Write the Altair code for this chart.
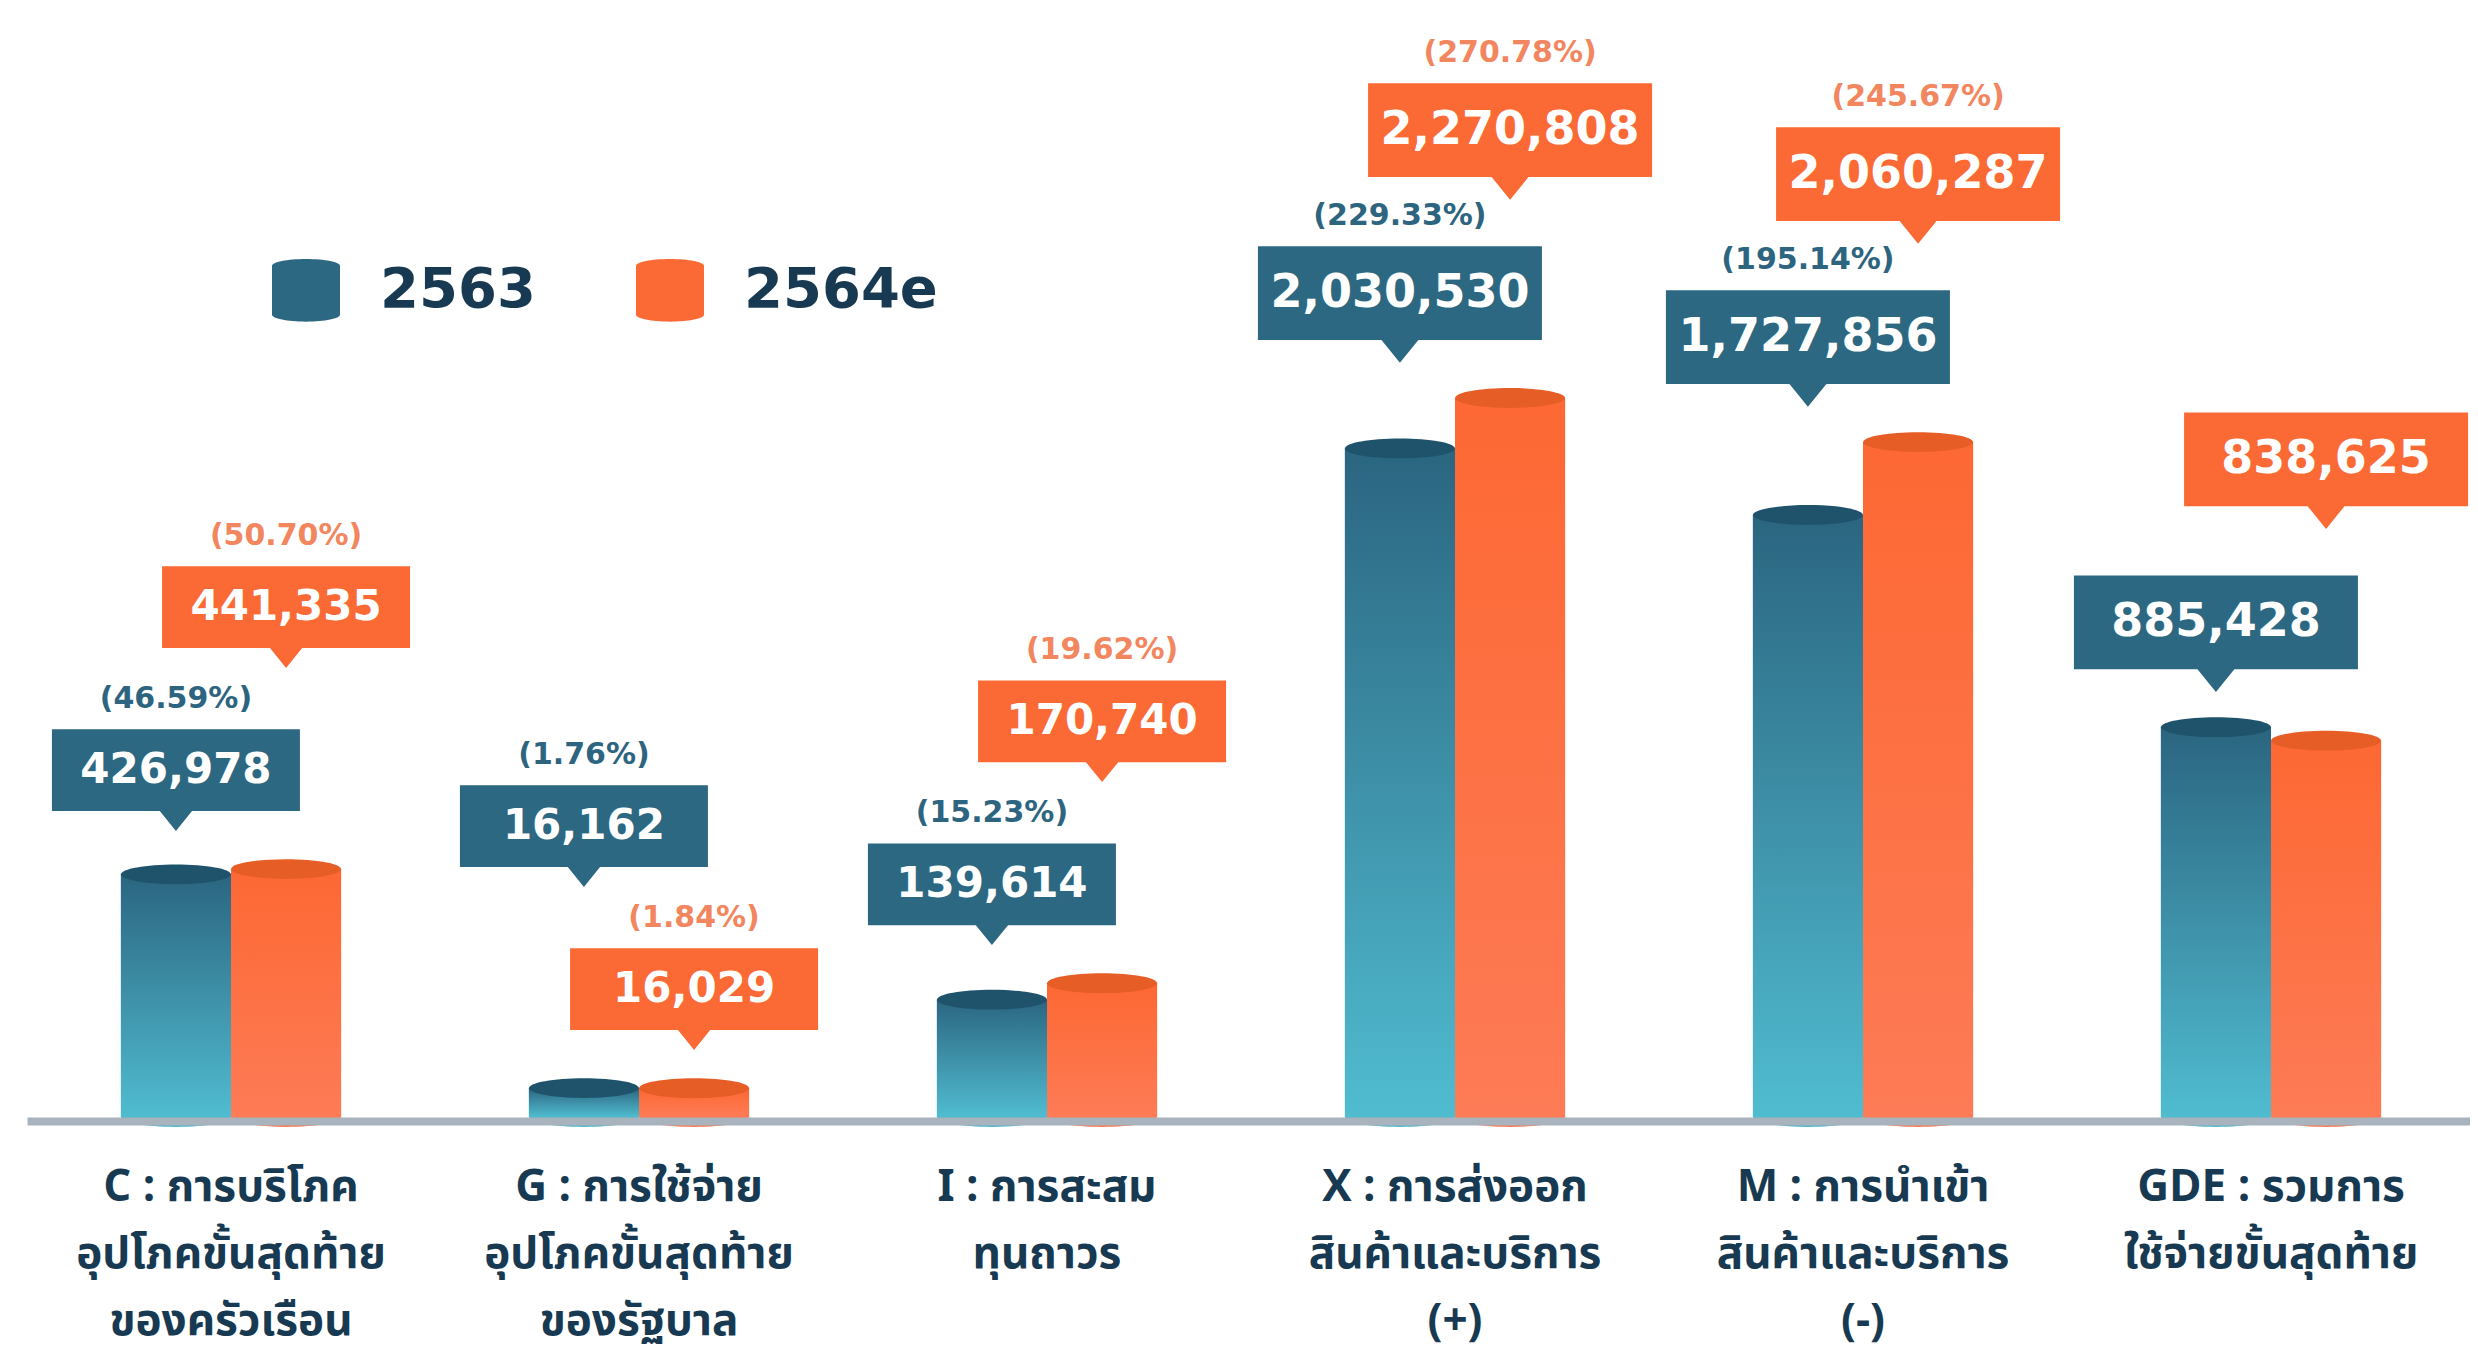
import altair as alt
import pandas as pd

# ---------------- data ----------------
categories = [
    "C : การบริโภค|อุปโภคขั้นสุดท้าย|ของครัวเรือน",
    "G : การใช้จ่าย|อุปโภคขั้นสุดท้าย|ของรัฐบาล",
    "I : การสะสม|ทุนถาวร",
    "X : การส่งออก|สินค้าและบริการ|(+)",
    "M : การนำเข้า|สินค้าและบริการ|(-)",
    "GDE : รวมการ|ใช้จ่ายขั้นสุดท้าย",
]
years = ["2563", "2564e"]
values_2563 = [426978, 16162, 139614, 2030530, 1727856, 885428]
values_2564e = [441335, 16029, 170740, 2270808, 2060287, 838625]
share_2563 = ["(46.59%)", "(1.76%)", "(15.23%)", "(229.33%)", "(195.14%)", ""]
share_2564e = ["(50.70%)", "(1.84%)", "(19.62%)", "(270.78%)", "(245.67%)", ""]
# which year's callout sits on the upper tier in each group
upper_callout = ["2564e", "2563", "2564e", "2564e", "2564e", "2564e"]
total_category = categories[-1]

rows = []
for i, cat in enumerate(categories):
    for year, vals, shares in ((years[0], values_2563, share_2563),
                               (years[1], values_2564e, share_2564e)):
        label = f"{vals[i]:,}"
        rows.append(dict(cat=cat, year=year, value=vals[i], label=label,
                         share=shares[i],
                         tier=1 if upper_callout[i] == year else 0,
                         box="big" if (len(label) > 7 or cat == total_category) else "small"))
df = pd.DataFrame(rows)
max_value = max(values_2563 + values_2564e)

# ---------------- styles ----------------
NAVY = "#173a52"
BASE = "#a9b3bd"
BLUE_TOP, BLUE_BAR_TOP, BLUE_BAR_BOT, BLUE_BOTTOM = "#1f536c", "#2b6580", "#50bcd0", "#4cb6ca"
ORANGE_TOP, ORANGE_BAR_TOP, ORANGE_BAR_BOT, ORANGE_BOTTOM = "#e65e26", "#fd6833", "#fd7b56", "#fb7851"
BLUE_BOX, ORANGE_BOX = "#2c6882", "#fb6a34"
BLUE_PCT, ORANGE_PCT = "#2d6580", "#f2865e"
NUM_FONT = "DejaVu Sans"
THAI_FONT = "'Noto Sans Thai', 'Noto Sans Thai Looped', 'Noto Sans', sans-serif"

ELLIPSE = "M-1,0 A1,0.18 0 1,1 1,0 A1,0.18 0 1,1 -1,0 Z"
CYL = "M-1,-0.72 A1,0.2 0 0,1 1,-0.72 L1,0.72 A1,0.2 0 0,1 -1,0.72 Z"
BOX = "M0,0 L-0.13,-0.16 L-1,-0.16 L-1,-0.82 L1,-0.82 L1,-0.16 L0.13,-0.16 Z"

is_2563 = alt.datum.year == years[0]

X = alt.X("cat:N",
          scale=alt.Scale(domain=categories, range=[19, 2467],
                          paddingInner=0.46, paddingOuter=0.23),
          axis=alt.Axis(title=None, labelExpr="split(datum.label, '|')",
                        labelAngle=0, labelFont=THAI_FONT, labelFontSize=44,
                        labelFontWeight="bold", labelColor=NAVY,
                        labelLineHeight=67, labelPadding=44,
                        labelBaseline="top", labelLimit=900, ticks=False,
                        domainColor=BASE, domainWidth=8, offset=4,
                        zindex=1, grid=False))
XO = alt.XOffset("year:N", scale=alt.Scale(domain=years, paddingInner=0,
                                            paddingOuter=0))
YSCALE = alt.Scale(type="pow", exponent=0.65, domain=[0, max_value],
                   range=[1109, 390], nice=False, zero=True)
Y = alt.Y("value:Q", scale=YSCALE, axis=None)
YMAX = alt.Y("maxv:Q", scale=YSCALE, axis=None)

legend = alt.Legend(orient="none", legendX=264, legendY=248,
                    direction="horizontal", title=None, symbolType=CYL,
                    symbolSize=4624, symbolStrokeWidth=0, symbolOpacity=1,
                    labelFont=NUM_FONT, labelFontSize=56, labelLimit=600,
                    labelFontWeight="bold", labelColor=NAVY, labelOffset=40,
                    columnPadding=100, padding=0)
BOX_FILL = alt.Fill("year:N", scale=alt.Scale(domain=years,
                                               range=[BLUE_BOX, ORANGE_BOX]),
                    legend=legend)

base = alt.Chart(df).encode(x=X, xOffset=XO)

bottoms = base.mark_point(shape=ELLIPSE, filled=True, size=12100, opacity=1,
                          strokeWidth=0).encode(
    y=alt.Y(datum=0, scale=YSCALE, axis=None),
    fill=alt.condition(is_2563, alt.value(BLUE_BOTTOM), alt.value(ORANGE_BOTTOM)))


def grad(top, bot):
    return alt.LinearGradient(gradient="linear",
                              stops=[alt.GradientStop(color=top, offset=0),
                                     alt.GradientStop(color=bot, offset=1)],
                              x1=0, x2=0, y1=0, y2=1)


bars_blue = base.transform_filter(is_2563).mark_bar(
    fill=grad(BLUE_BAR_TOP, BLUE_BAR_BOT)).encode(y=Y)
bars_orange = base.transform_filter(alt.datum.year == years[1]).mark_bar(
    fill=grad(ORANGE_BAR_TOP, ORANGE_BAR_BOT)).encode(y=Y)

tops = base.mark_point(shape=ELLIPSE, filled=True, size=12100, opacity=1,
                       strokeWidth=0).encode(
    y=Y, fill=alt.condition(is_2563, alt.value(BLUE_TOP), alt.value(ORANGE_TOP)))

callout_base = base.transform_joinaggregate(maxv="max(value)", groupby=["cat"])

layers = [bottoms, bars_blue, bars_orange, tops]
for tier, gap in ((0, 58), (1, 221)):
    for box, w, fs in (("small", 248, 42), ("big", 284, 46)):
        r = w / 2
        tri = 0.16 * r
        boxh = 0.66 * r
        sub = callout_base.transform_filter(
            (alt.datum.tier == tier) & (alt.datum.box == box))
        layers.append(sub.mark_point(shape=BOX, filled=True, size=w * w,
                                     opacity=1, strokeWidth=0,
                                     yOffset=-(gap - tri)).encode(
            y=YMAX, fill=BOX_FILL))
        layers.append(sub.mark_text(font=NUM_FONT, fontSize=fs, fontWeight="bold",
                                    color="white", baseline="middle",
                                    yOffset=-(gap + boxh / 2)).encode(
            y=YMAX, text="label:N"))
        layers.append(sub.mark_text(font=NUM_FONT, fontSize=30, fontWeight="bold",
                                    baseline="middle",
                                    yOffset=-(gap + boxh + 30)).encode(
            y=YMAX, text="share:N",
            color=alt.condition(is_2563, alt.value(BLUE_PCT), alt.value(ORANGE_PCT))))

chart = alt.layer(*layers).properties(
    width=2462, height=1109,
    padding={"left": 0, "top": 0, "right": 0, "bottom": 236},
    autosize=alt.AutoSizeParams(type="none"),
    background="white",
).configure_view(stroke=None)

chart.save("out.html", embed_options={"renderer": "svg", "actions": False})
